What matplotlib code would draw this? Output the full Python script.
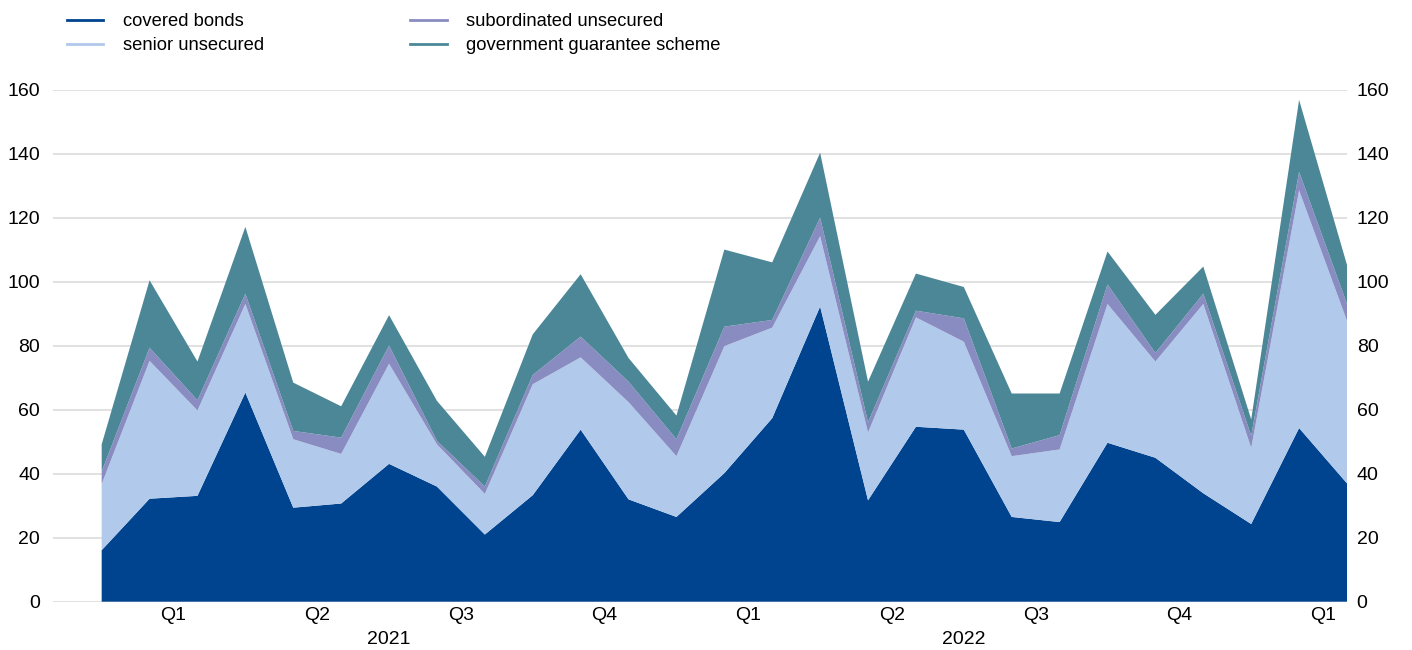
import numpy as np
import matplotlib
matplotlib.use("Agg")
import matplotlib.pyplot as plt
from matplotlib.lines import Line2D

plt.rcParams['font.family'] = ['Liberation Sans', 'DejaVu Sans']

# monthly data Jan 2021 - Mar 2023 (EUR billions)
months = list(range(27))
covered_bonds = [16.1, 32.2, 33.1, 65.4, 29.4, 30.7, 43.1, 36.0, 21.0, 33.3, 53.8, 32.0, 26.5, 40.2,
                 57.4, 92.3, 31.7, 54.7, 53.8, 26.5, 24.9, 49.7, 45.0, 33.9, 24.3, 54.3, 37.0]
senior_unsecured = [20.7, 43.1, 26.7, 27.7, 21.4, 15.5, 31.3, 13.2, 12.7, 34.7, 22.6, 30.4, 19.0, 39.7,
                    28.3, 22.0, 21.2, 34.2, 27.5, 19.0, 22.7, 43.4, 30.1, 59.2, 23.8, 74.3, 50.8]
subordinated_unsecured = [3.9, 4.1, 3.2, 3.2, 2.6, 5.1, 5.7, 1.1, 2.3, 2.9, 6.5, 6.4, 5.3, 6.1,
                          2.4, 5.8, 3.2, 2.1, 7.3, 2.4, 4.5, 6.1, 2.7, 3.2, 3.8, 5.8, 5.3]
government_guarantee = [8.5, 21.1, 12.1, 20.9, 15.1, 9.8, 9.5, 12.5, 9.3, 12.7, 19.5, 7.4, 7.4, 24.1,
                        18.0, 20.3, 12.7, 11.6, 9.8, 17.2, 13.0, 10.3, 11.9, 8.5, 5.1, 22.5, 12.2]

series_names = ["covered bonds", "senior unsecured", "subordinated unsecured", "government guarantee scheme"]
colors = ["#00448f", "#b1c9ea", "#898cc0", "#4c8797"]

quarter_pos = [1.5, 4.5, 7.5, 10.5, 13.5, 16.5, 19.5, 22.5, 25.5]
quarter_labels = ["Q1", "Q2", "Q3", "Q4", "Q1", "Q2", "Q3", "Q4", "Q1"]
year_pos = [6, 18]
year_labels = ["2021", "2022"]
yticks = [0, 20, 40, 60, 80, 100, 120, 140, 160]

W, H = 1412, 650
fig = plt.figure(figsize=(W/100, H/100), dpi=100)
ax = fig.add_axes([53.3/W, (H-601.7)/H, (1347-53.3)/W, (601.7-90)/H])

ax.stackplot(months, covered_bonds, senior_unsecured, subordinated_unsecured, government_guarantee,
             colors=colors, linewidth=0)

ax.set_xlim(-1.01, 26)
ax.set_ylim(0, 160)
ax.set_yticks(yticks)
ax.grid(axis='y', color='#dcdcdc', linewidth=1.2)
ax.set_axisbelow(True)
for s in ax.spines.values():
    s.set_visible(False)
ax.set_xticks(quarter_pos)
ax.set_xticklabels(quarter_labels, fontsize=14)
ax.tick_params(axis='x', length=0, pad=3.5)
ax.tick_params(axis='y', length=0, pad=9.5, labelsize=14)

for p, l in zip(year_pos, year_labels):
    ax.annotate(l, xy=(p, 0), xycoords=('data', 'axes fraction'), xytext=(0, -37.5 * 0.72),
                textcoords='offset points', ha='center', va='center', fontsize=14)

ax2 = ax.twinx()
ax2.set_ylim(0, 160)
ax2.set_yticks(yticks)
ax2.tick_params(axis='y', length=0, pad=7, labelsize=14)
for s in ax2.spines.values():
    s.set_visible(False)

handles = [Line2D([0], [0], color=c, lw=2) for c in colors]
fig.legend(handles, series_names,
           ncol=2, loc='upper left', bbox_to_anchor=(66.7/W, 1 - 13/H), frameon=False,
           fontsize=13.2, handlelength=2.0, handletextpad=1.05, columnspacing=8.0,
           labelspacing=0.38, borderpad=0, borderaxespad=0)

fig.savefig("out.png", dpi=100)
